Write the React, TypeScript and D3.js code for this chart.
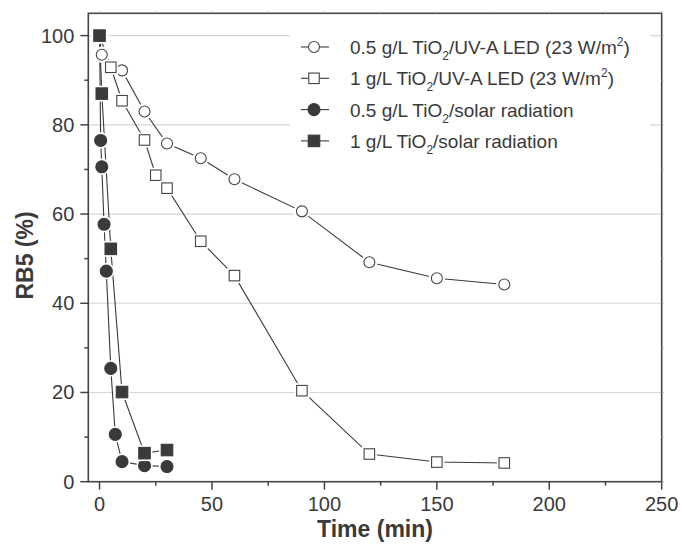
import React from "react";
import * as d3 from "d3";

const seriesNames = [
  "0.5 g/L TiO|2|/UV-A LED (23 W/m^2^)",
  "1 g/L TiO|2|/UV-A LED (23 W/m^2^)",
  "0.5 g/L TiO|2|/solar radiation",
  "1 g/L TiO|2|/solar radiation",
];
const markerShapes = ["circle", "square", "circle", "square"];
const markerFilled = [false, false, true, true];

const timeA = [0, 1, 10, 20, 30, 45, 60, 90, 120, 150, 180];
const valA = [100, 95.7, 92.2, 83.0, 75.8, 72.5, 67.8, 60.6, 49.2, 45.6, 44.2];
const timeB = [0, 5, 10, 20, 25, 30, 45, 60, 90, 120, 150, 180];
const valB = [100, 92.9, 85.4, 76.6, 68.7, 65.8, 53.9, 46.2, 20.4, 6.2, 4.4, 4.2];
const timeC = [0, 0.5, 1, 2, 3, 5, 7, 10, 20, 30];
const valC = [100, 76.5, 70.6, 57.7, 47.2, 25.4, 10.6, 4.5, 3.6, 3.4];
const timeD = [0, 1, 5, 10, 20, 30];
const valD = [100, 87.0, 52.2, 20.1, 6.4, 7.1];

const xMajor = [0, 50, 100, 150, 200, 250];
const xMinor = [25, 75, 125, 175, 225];
const yMajor = [0, 20, 40, 60, 80, 100];
const yMinor = [10, 30, 50, 70, 90];
const xTitle = "Time (min)";
const yTitle = "RB5 (%)";

const W = 682, H = 549;
const L = 88.3, R = 661.7, T = 13.3, B = 481.7;
const FONT = "'Liberation Sans', Arial, Helvetica, sans-serif";
const INK = "#3a3a3a";

function LegendText({ s, x, y }: { s: string; x: number; y: number }) {
  const parts: { t: string; off: number }[] = [];
  const re = /\|([^|]*)\||\^([^^]*)\^|([^|^]+)/g;
  let m;
  while ((m = re.exec(s))) {
    if (m[1] !== undefined) parts.push({ t: m[1], off: 6 });
    else if (m[2] !== undefined) parts.push({ t: m[2], off: -8 });
    else parts.push({ t: m[3], off: 0 });
  }
  let cur = 0;
  return (
    <text x={x} y={y} fontFamily={FONT} fontSize={19} fill={INK}>
      {parts.map((p, i) => {
        const dy = p.off - cur;
        cur = p.off;
        return (
          <tspan key={i} dy={dy} fontSize={p.off === 0 ? 19 : 12}>
            {p.t}
          </tspan>
        );
      })}
    </text>
  );
}

function Marker({ shape, filled, cx, cy, halo }: { shape: string; filled: boolean; cx: number; cy: number; halo?: boolean }) {
  const r = 6;
  const fill = filled ? INK : "#fff";
  const stroke = filled ? INK : "#444";
  const sw = 1.1;
  const hs = 2.2;
  if (shape === "circle") {
    return (
      <g>
        {halo && <circle cx={cx} cy={cy} r={r + hs} fill="#fff" />}
        <circle cx={cx} cy={cy} r={filled ? r : r - 0.5} fill={fill} stroke={stroke} strokeWidth={sw} />
      </g>
    );
  }
  const s = filled ? 11.5 : 10.5;
  return (
    <g>
      {halo && <rect x={cx - s / 2 - hs} y={cy - s / 2 - hs} width={s + 2 * hs} height={s + 2 * hs} fill="#fff" />}
      <rect x={cx - s / 2} y={cy - s / 2} width={s} height={s} fill={fill} stroke={stroke} strokeWidth={sw} />
    </g>
  );
}

export default function App() {
  const x = d3.scaleLinear().domain([-5, 250]).range([L, R]);
  const y = d3.scaleLinear().domain([0, 105]).range([B, T]);
  const series = [
    { t: timeA, v: valA },
    { t: timeB, v: valB },
    { t: timeC, v: valC },
    { t: timeD, v: valD },
  ];
  const line = d3
    .line<[number, number]>()
    .x((d) => x(d[0]))
    .y((d) => y(d[1]));

  const legX = 301;
  const legRows = seriesNames.map((_, i) => 47 + i * 31.3);

  return (
    <svg width={W} height={H} style={{ position: "absolute", left: 0, top: 0, background: "#fff" }}>
      <rect width={W} height={H} fill="#fff" />
      {yMajor.filter((v) => v > 0).map((v) => (
        <line key={v} x1={L} x2={R} y1={y(v)} y2={y(v)} stroke="#d6d6d6" strokeWidth={1.2} />
      ))}
      <rect x={290} y={24} width={360} height={132} fill="#fff" />
      {series.map((s, i) => (
        <path
          key={"l" + i}
          d={line(s.t.map((t, j) => [t, s.v[j]] as [number, number])) || ""}
          fill="none"
          stroke={INK}
          strokeWidth={1.1}
        />
      ))}
      {series.map((s, i) =>
        s.t.map((t, j) => (
          <Marker key={i + "-" + j} shape={markerShapes[i]} filled={markerFilled[i]} cx={x(t)} cy={y(s.v[j])} halo />
        ))
      )}
      <rect x={L} y={T} width={R - L} height={B - T} fill="none" stroke="#444" strokeWidth={1.6} />
      {[...xMajor, ...xMinor].map((v) => (
        <line key={"tt" + v} x1={x(v)} x2={x(v)} y1={T} y2={T - 2} stroke="#aaa" strokeWidth={1} />
      ))}
      {[...yMajor, ...yMinor].map((v) => (
        <line key={"rt" + v} x1={R} x2={R + 2} y1={y(v)} y2={y(v)} stroke="#aaa" strokeWidth={1} />
      ))}
      {xMajor.map((v) => (
        <g key={"xm" + v}>
          <line x1={x(v)} x2={x(v)} y1={B} y2={B + 8} stroke="#444" strokeWidth={1.5} />
          <text x={x(v)} y={B + 29} textAnchor="middle" fontFamily={FONT} fontSize={20} fill={INK}>
            {v}
          </text>
        </g>
      ))}
      {xMinor.map((v) => (
        <line key={"xn" + v} x1={x(v)} x2={x(v)} y1={B} y2={B + 4} stroke="#444" strokeWidth={1.5} />
      ))}
      {yMajor.map((v) => (
        <g key={"ym" + v}>
          <line x1={L - 8} x2={L} y1={y(v)} y2={y(v)} stroke="#444" strokeWidth={1.5} />
          <text x={L - 14} y={y(v) + 7} textAnchor="end" fontFamily={FONT} fontSize={20} fill={INK}>
            {v}
          </text>
        </g>
      ))}
      {yMinor.map((v) => (
        <line key={"yn" + v} x1={L - 4} x2={L} y1={y(v)} y2={y(v)} stroke="#444" strokeWidth={1.5} />
      ))}
      <text x={(L + R) / 2} y={537} textAnchor="middle" fontFamily={FONT} fontSize={23} fontWeight="bold" fill={INK}>
        {xTitle}
      </text>
      <text
        transform={`translate(33, ${(T + B) / 2 + 8}) rotate(-90)`}
        textAnchor="middle"
        fontFamily={FONT}
        fontSize={23}
        fontWeight="bold"
        fill={INK}
      >
        {yTitle}
      </text>
      {seriesNames.map((n, i) => (
        <g key={"lg" + i}>
          <line x1={legX} x2={legX + 28} y1={legRows[i]} y2={legRows[i]} stroke={INK} strokeWidth={1.1} />
          <Marker shape={markerShapes[i]} filled={markerFilled[i]} cx={legX + 13} cy={legRows[i]} />
          <LegendText s={n} x={legX + 49} y={legRows[i] + 7} />
        </g>
      ))}
    </svg>
  );
}
